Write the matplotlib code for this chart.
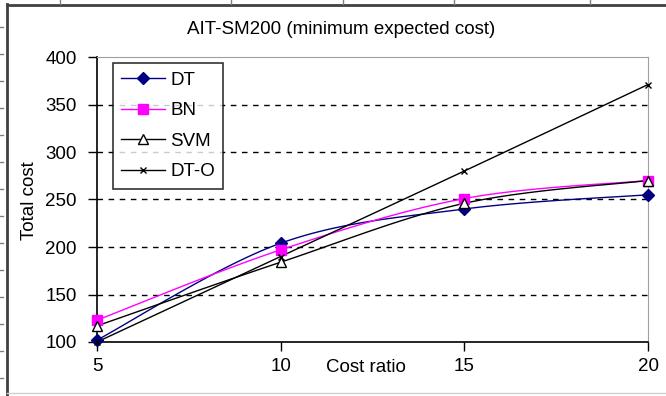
import numpy as np
import matplotlib.pyplot as plt
from matplotlib.lines import Line2D

plt.rcParams['font.family'] = ['Liberation Sans', 'DejaVu Sans']

# data
cost_ratio = [5, 10, 15, 20]
dt = [102, 204, 240, 255]
bn = [123, 197, 251, 270]
svm = [117, 184, 246, 270]
dt_o = [100, 190, 280, 371]


def smooth(xs, ys, n=30):
    """Excel style smoothed line (bezier through the points)"""
    p = np.column_stack([xs, ys]).astype(float)
    p = np.vstack([p[0], p, p[-1]])
    out = []
    t = np.linspace(0, 1, n)[:, None]
    for i in range(1, len(p) - 2):
        p0, p1, p2, p3 = p[i - 1], p[i], p[i + 1], p[i + 2]
        c1 = p1 + (p2 - p0) / 6
        c2 = p2 - (p3 - p1) / 6
        seg = ((1 - t) ** 3) * p1 + 3 * ((1 - t) ** 2) * t * c1 + 3 * (1 - t) * t ** 2 * c2 + t ** 3 * p2
        out.append(seg)
    out = np.vstack(out)
    return out[:, 0], out[:, 1]


FS = 13.5
W, H = 666, 396
fig = plt.figure(figsize=(W / 100, H / 100), dpi=100)
ax = fig.add_axes([97 / W, (H - 342) / H, (648 - 97) / W, (342 - 57) / H])

series = [
    ('DT', dt, '#000080', dict(marker='D', ms=6.5, mfc='#000080', mec='#000080')),
    ('BN', bn, '#ff00ff', dict(marker='s', ms=6.5, mfc='#ff00ff', mec='#ff00ff')),
    ('SVM', svm, 'black', dict(marker='^', ms=7, mfc='white', mec='black')),
    ('DT-O', dt_o, 'black', dict(marker='x', ms=5, mfc='black', mec='black', mew=1)),
]

handles = []
for name, ys, col, mk in series:
    sx, sy = smooth(cost_ratio, ys)
    ax.plot(sx, sy, color=col, lw=1, zorder=3)
    ax.plot(cost_ratio, ys, linestyle='none', zorder=4, clip_on=False, **mk)
    handles.append(Line2D([], [], color=col, lw=1, **mk))

ax.set_xlim(5, 20)
ax.set_ylim(100, 400)
ax.set_xticks(cost_ratio)
ax.set_yticks(np.arange(100, 401, 50))
for v in range(150, 400, 50):
    ax.axhline(v, color='black', lw=1, ls=(0, (4, 4)), zorder=1)

ax.tick_params(axis='both', direction='out', length=6.5, width=1, labelsize=FS, colors='black')
ax.tick_params(axis='x', pad=5)
ax.tick_params(axis='y', pad=8)
ax.spines['left'].set_linewidth(1.2)
ax.spines['bottom'].set_linewidth(1.2)
ax.spines['top'].set_color('#a0a0a0')
ax.spines['right'].set_color('#a0a0a0')

fig.text(30 / W, 1 - 201 / H, 'Total cost', fontsize=FS, ha='center', va='center', rotation=90)
fig.text(366 / W, 1 - 368 / H, 'Cost ratio', fontsize=FS, ha='center', va='center')
fig.text(341 / W, 1 - 30 / H, 'AIT-SM200 (minimum expected cost)', fontsize=FS, ha='center', va='center')

leg = ax.legend(handles, [s[0] for s in series], loc='upper left', bbox_to_anchor=(16 / 551, 1 - 6 / 285),
                fontsize=FS, frameon=True, fancybox=False, edgecolor='black', handlelength=2.3,
                labelspacing=0.72, borderpad=0.45, handletextpad=0.3, borderaxespad=0)
leg.get_frame().set_linewidth(1.2)
leg.set_zorder(6)

# chart area border and worksheet marks around it
fig.add_artist(Line2D([7 / W, 7 / W], [0, 1 - 4 / H], color='#404040', lw=2))
fig.add_artist(Line2D([7 / W, 1], [1 - 5 / H, 1 - 5 / H], color='#404040', lw=2))
fig.add_artist(Line2D([7 / W, 1], [3 / H, 3 / H], color='#d0d0d0', lw=1))
for x in [60, 231, 343, 454, 590]:
    fig.add_artist(Line2D([x / W, x / W], [1 - 4 / H, 1], color='#808080', lw=1))
for y in range(27, 396, 27):
    fig.add_artist(Line2D([0, 3 / W], [1 - y / H, 1 - y / H], color='#808080', lw=1))

fig.savefig('out.png', dpi=100)
